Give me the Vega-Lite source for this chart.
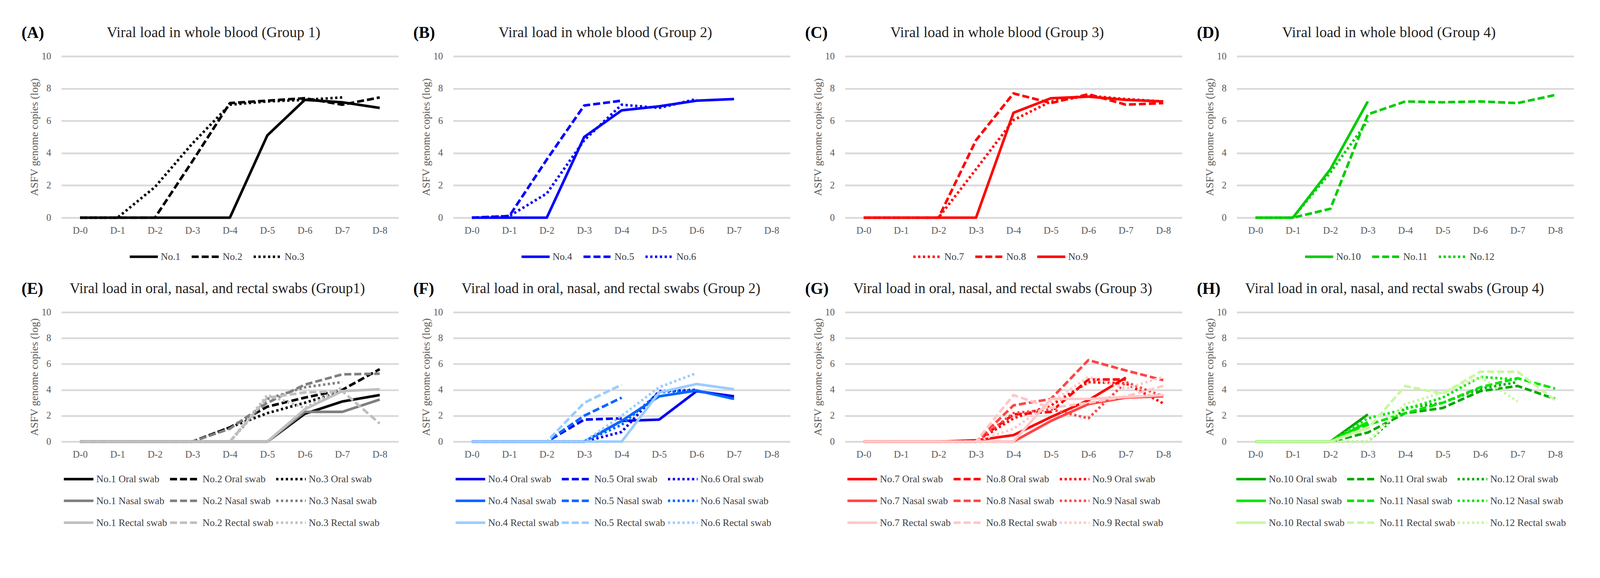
{
"$schema": "https://vega.github.io/schema/vega-lite/v6.json",
"background": "white",
"padding": {"left": 55, "top": 64, "right": 0, "bottom": 0},
"config": {
  "font": "Liberation Serif",
  "view": {"stroke": null},
  "axis": {"labelFont": "Liberation Serif", "labelFontSize": 24.6, "labelColor": "#595959", "titleFont": "Liberation Serif", "titleColor": "#595959", "titleFontWeight": "normal", "domain": false, "ticks": false, "tickSize": 0},
  "axisX": {"grid": false, "labelAngle": 0, "labelPadding": 21},
  "axisY": {"grid": true, "gridColor": "#d9d9d9", "gridWidth": 4.3, "labelPadding": 26.5, "titleFontSize": 27.5, "titlePadding": 3.8, "tickCount": 5},
  "legend": {"orient": "none", "symbolType": "stroke", "symbolSize": 5184, "symbolStrokeWidth": 6.6, "labelFont": "Liberation Serif", "labelFontSize": 25.6, "labelColor": "#404040", "labelOffset": 3.8, "labelLimit": 500, "columnPadding": 24.6, "rowPadding": -29.4, "padding": 0},
  "title": {"anchor": "start", "frame": "bounds", "font": "Liberation Serif", "fontSize": 41.7, "fontWeight": "bold", "color": "#000000", "offset": -41.7, "dx": -19},
  "line": {"strokeWidth": 6.6, "strokeJoin": "round"}
},
"datasets": {
"blood": [
{"panel":"A","series":"No.1","day":"D-0","value":0},{"panel":"A","series":"No.1","day":"D-1","value":0},{"panel":"A","series":"No.1","day":"D-2","value":0},{"panel":"A","series":"No.1","day":"D-3","value":0},{"panel":"A","series":"No.1","day":"D-4","value":0},{"panel":"A","series":"No.1","day":"D-5","value":5.1},{"panel":"A","series":"No.1","day":"D-6","value":7.3},{"panel":"A","series":"No.1","day":"D-7","value":7.15},{"panel":"A","series":"No.1","day":"D-8","value":6.8},
{"panel":"A","series":"No.2","day":"D-0","value":0},{"panel":"A","series":"No.2","day":"D-1","value":0},{"panel":"A","series":"No.2","day":"D-2","value":0},{"panel":"A","series":"No.2","day":"D-3","value":3.5},{"panel":"A","series":"No.2","day":"D-4","value":7.1},{"panel":"A","series":"No.2","day":"D-5","value":7.25},{"panel":"A","series":"No.2","day":"D-6","value":7.4},{"panel":"A","series":"No.2","day":"D-7","value":7.0},{"panel":"A","series":"No.2","day":"D-8","value":7.45},
{"panel":"A","series":"No.3","day":"D-0","value":0},{"panel":"A","series":"No.3","day":"D-1","value":0},{"panel":"A","series":"No.3","day":"D-2","value":1.9},{"panel":"A","series":"No.3","day":"D-3","value":4.6},{"panel":"A","series":"No.3","day":"D-4","value":7.0},{"panel":"A","series":"No.3","day":"D-5","value":7.2},{"panel":"A","series":"No.3","day":"D-6","value":7.3},{"panel":"A","series":"No.3","day":"D-7","value":7.45},
{"panel":"B","series":"No.4","day":"D-0","value":0},{"panel":"B","series":"No.4","day":"D-1","value":0},{"panel":"B","series":"No.4","day":"D-2","value":0},{"panel":"B","series":"No.4","day":"D-3","value":5.0},{"panel":"B","series":"No.4","day":"D-4","value":6.65},{"panel":"B","series":"No.4","day":"D-5","value":6.9},{"panel":"B","series":"No.4","day":"D-6","value":7.25},{"panel":"B","series":"No.4","day":"D-7","value":7.35},
{"panel":"B","series":"No.5","day":"D-0","value":0},{"panel":"B","series":"No.5","day":"D-1","value":0.1},{"panel":"B","series":"No.5","day":"D-2","value":3.6},{"panel":"B","series":"No.5","day":"D-3","value":6.95},{"panel":"B","series":"No.5","day":"D-4","value":7.25},
{"panel":"B","series":"No.6","day":"D-0","value":0},{"panel":"B","series":"No.6","day":"D-1","value":0.1},{"panel":"B","series":"No.6","day":"D-2","value":1.5},{"panel":"B","series":"No.6","day":"D-3","value":4.8},{"panel":"B","series":"No.6","day":"D-4","value":7.0},{"panel":"B","series":"No.6","day":"D-5","value":6.8},{"panel":"B","series":"No.6","day":"D-6","value":7.35},
{"panel":"C","series":"No.7","day":"D-0","value":0},{"panel":"C","series":"No.7","day":"D-1","value":0},{"panel":"C","series":"No.7","day":"D-2","value":0},{"panel":"C","series":"No.7","day":"D-3","value":3.0},{"panel":"C","series":"No.7","day":"D-4","value":6.05},{"panel":"C","series":"No.7","day":"D-5","value":7.2},{"panel":"C","series":"No.7","day":"D-6","value":7.55},{"panel":"C","series":"No.7","day":"D-7","value":7.35},{"panel":"C","series":"No.7","day":"D-8","value":7.2},
{"panel":"C","series":"No.8","day":"D-0","value":0},{"panel":"C","series":"No.8","day":"D-1","value":0},{"panel":"C","series":"No.8","day":"D-2","value":0},{"panel":"C","series":"No.8","day":"D-3","value":4.8},{"panel":"C","series":"No.8","day":"D-4","value":7.7},{"panel":"C","series":"No.8","day":"D-5","value":7.1},{"panel":"C","series":"No.8","day":"D-6","value":7.65},{"panel":"C","series":"No.8","day":"D-7","value":7.0},{"panel":"C","series":"No.8","day":"D-8","value":7.1},
{"panel":"C","series":"No.9","day":"D-0","value":0},{"panel":"C","series":"No.9","day":"D-1","value":0},{"panel":"C","series":"No.9","day":"D-2","value":0},{"panel":"C","series":"No.9","day":"D-3","value":0},{"panel":"C","series":"No.9","day":"D-4","value":6.5},{"panel":"C","series":"No.9","day":"D-5","value":7.4},{"panel":"C","series":"No.9","day":"D-6","value":7.5},{"panel":"C","series":"No.9","day":"D-7","value":7.3},{"panel":"C","series":"No.9","day":"D-8","value":7.2},
{"panel":"D","series":"No.10","day":"D-0","value":0},{"panel":"D","series":"No.10","day":"D-1","value":0},{"panel":"D","series":"No.10","day":"D-2","value":3.0},{"panel":"D","series":"No.10","day":"D-3","value":7.2},
{"panel":"D","series":"No.11","day":"D-0","value":0},{"panel":"D","series":"No.11","day":"D-1","value":0},{"panel":"D","series":"No.11","day":"D-2","value":0.55},{"panel":"D","series":"No.11","day":"D-3","value":6.4},{"panel":"D","series":"No.11","day":"D-4","value":7.2},{"panel":"D","series":"No.11","day":"D-5","value":7.15},{"panel":"D","series":"No.11","day":"D-6","value":7.2},{"panel":"D","series":"No.11","day":"D-7","value":7.1},{"panel":"D","series":"No.11","day":"D-8","value":7.6},
{"panel":"D","series":"No.12","day":"D-0","value":0},{"panel":"D","series":"No.12","day":"D-1","value":0},{"panel":"D","series":"No.12","day":"D-2","value":2.8},{"panel":"D","series":"No.12","day":"D-3","value":6.0}
],
"swab": [
{"panel":"E","series":"No.1 Oral swab","day":"D-0","value":0},{"panel":"E","series":"No.1 Oral swab","day":"D-1","value":0},{"panel":"E","series":"No.1 Oral swab","day":"D-2","value":0},{"panel":"E","series":"No.1 Oral swab","day":"D-3","value":0},{"panel":"E","series":"No.1 Oral swab","day":"D-4","value":0},{"panel":"E","series":"No.1 Oral swab","day":"D-5","value":0},{"panel":"E","series":"No.1 Oral swab","day":"D-6","value":2.15},{"panel":"E","series":"No.1 Oral swab","day":"D-7","value":3.1},{"panel":"E","series":"No.1 Oral swab","day":"D-8","value":3.6},
{"panel":"E","series":"No.2 Oral swab","day":"D-0","value":0},{"panel":"E","series":"No.2 Oral swab","day":"D-1","value":0},{"panel":"E","series":"No.2 Oral swab","day":"D-2","value":0},{"panel":"E","series":"No.2 Oral swab","day":"D-3","value":0},{"panel":"E","series":"No.2 Oral swab","day":"D-4","value":1.1},{"panel":"E","series":"No.2 Oral swab","day":"D-5","value":2.7},{"panel":"E","series":"No.2 Oral swab","day":"D-6","value":3.4},{"panel":"E","series":"No.2 Oral swab","day":"D-7","value":4.0},{"panel":"E","series":"No.2 Oral swab","day":"D-8","value":5.6},
{"panel":"E","series":"No.3 Oral swab","day":"D-0","value":0},{"panel":"E","series":"No.3 Oral swab","day":"D-1","value":0},{"panel":"E","series":"No.3 Oral swab","day":"D-2","value":0},{"panel":"E","series":"No.3 Oral swab","day":"D-3","value":0},{"panel":"E","series":"No.3 Oral swab","day":"D-4","value":1.1},{"panel":"E","series":"No.3 Oral swab","day":"D-5","value":2.2},{"panel":"E","series":"No.3 Oral swab","day":"D-6","value":3.0},{"panel":"E","series":"No.3 Oral swab","day":"D-7","value":3.9},
{"panel":"E","series":"No.1 Nasal swab","day":"D-0","value":0},{"panel":"E","series":"No.1 Nasal swab","day":"D-1","value":0},{"panel":"E","series":"No.1 Nasal swab","day":"D-2","value":0},{"panel":"E","series":"No.1 Nasal swab","day":"D-3","value":0},{"panel":"E","series":"No.1 Nasal swab","day":"D-4","value":0},{"panel":"E","series":"No.1 Nasal swab","day":"D-5","value":0},{"panel":"E","series":"No.1 Nasal swab","day":"D-6","value":2.3},{"panel":"E","series":"No.1 Nasal swab","day":"D-7","value":2.3},{"panel":"E","series":"No.1 Nasal swab","day":"D-8","value":3.25},
{"panel":"E","series":"No.2 Nasal swab","day":"D-0","value":0},{"panel":"E","series":"No.2 Nasal swab","day":"D-1","value":0},{"panel":"E","series":"No.2 Nasal swab","day":"D-2","value":0},{"panel":"E","series":"No.2 Nasal swab","day":"D-3","value":0},{"panel":"E","series":"No.2 Nasal swab","day":"D-4","value":1.0},{"panel":"E","series":"No.2 Nasal swab","day":"D-5","value":3.0},{"panel":"E","series":"No.2 Nasal swab","day":"D-6","value":4.4},{"panel":"E","series":"No.2 Nasal swab","day":"D-7","value":5.2},{"panel":"E","series":"No.2 Nasal swab","day":"D-8","value":5.25},
{"panel":"E","series":"No.3 Nasal swab","day":"D-0","value":0},{"panel":"E","series":"No.3 Nasal swab","day":"D-1","value":0},{"panel":"E","series":"No.3 Nasal swab","day":"D-2","value":0},{"panel":"E","series":"No.3 Nasal swab","day":"D-3","value":0},{"panel":"E","series":"No.3 Nasal swab","day":"D-4","value":0},{"panel":"E","series":"No.3 Nasal swab","day":"D-5","value":3.3},{"panel":"E","series":"No.3 Nasal swab","day":"D-6","value":4.2},{"panel":"E","series":"No.3 Nasal swab","day":"D-7","value":4.6},
{"panel":"E","series":"No.1 Rectal swab","day":"D-0","value":0},{"panel":"E","series":"No.1 Rectal swab","day":"D-1","value":0},{"panel":"E","series":"No.1 Rectal swab","day":"D-2","value":0},{"panel":"E","series":"No.1 Rectal swab","day":"D-3","value":0},{"panel":"E","series":"No.1 Rectal swab","day":"D-4","value":0},{"panel":"E","series":"No.1 Rectal swab","day":"D-5","value":0},{"panel":"E","series":"No.1 Rectal swab","day":"D-6","value":2.5},{"panel":"E","series":"No.1 Rectal swab","day":"D-7","value":3.9},{"panel":"E","series":"No.1 Rectal swab","day":"D-8","value":4.05},
{"panel":"E","series":"No.2 Rectal swab","day":"D-0","value":0},{"panel":"E","series":"No.2 Rectal swab","day":"D-1","value":0},{"panel":"E","series":"No.2 Rectal swab","day":"D-2","value":0},{"panel":"E","series":"No.2 Rectal swab","day":"D-3","value":0},{"panel":"E","series":"No.2 Rectal swab","day":"D-4","value":0},{"panel":"E","series":"No.2 Rectal swab","day":"D-5","value":3.4},{"panel":"E","series":"No.2 Rectal swab","day":"D-6","value":3.8},{"panel":"E","series":"No.2 Rectal swab","day":"D-7","value":3.9},{"panel":"E","series":"No.2 Rectal swab","day":"D-8","value":1.4},
{"panel":"E","series":"No.3 Rectal swab","day":"D-0","value":0},{"panel":"E","series":"No.3 Rectal swab","day":"D-1","value":0},{"panel":"E","series":"No.3 Rectal swab","day":"D-2","value":0},{"panel":"E","series":"No.3 Rectal swab","day":"D-3","value":0},{"panel":"E","series":"No.3 Rectal swab","day":"D-4","value":0},{"panel":"E","series":"No.3 Rectal swab","day":"D-5","value":3.6},{"panel":"E","series":"No.3 Rectal swab","day":"D-6","value":2.6},{"panel":"E","series":"No.3 Rectal swab","day":"D-7","value":4.2},
{"panel":"F","series":"No.4 Oral swab","day":"D-0","value":0},{"panel":"F","series":"No.4 Oral swab","day":"D-1","value":0},{"panel":"F","series":"No.4 Oral swab","day":"D-2","value":0},{"panel":"F","series":"No.4 Oral swab","day":"D-3","value":0},{"panel":"F","series":"No.4 Oral swab","day":"D-4","value":1.6},{"panel":"F","series":"No.4 Oral swab","day":"D-5","value":1.7},{"panel":"F","series":"No.4 Oral swab","day":"D-6","value":3.9},{"panel":"F","series":"No.4 Oral swab","day":"D-7","value":3.5},
{"panel":"F","series":"No.5 Oral swab","day":"D-0","value":0},{"panel":"F","series":"No.5 Oral swab","day":"D-1","value":0},{"panel":"F","series":"No.5 Oral swab","day":"D-2","value":0},{"panel":"F","series":"No.5 Oral swab","day":"D-3","value":1.7},{"panel":"F","series":"No.5 Oral swab","day":"D-4","value":1.8},
{"panel":"F","series":"No.6 Oral swab","day":"D-0","value":0},{"panel":"F","series":"No.6 Oral swab","day":"D-1","value":0},{"panel":"F","series":"No.6 Oral swab","day":"D-2","value":0},{"panel":"F","series":"No.6 Oral swab","day":"D-3","value":0},{"panel":"F","series":"No.6 Oral swab","day":"D-4","value":0.75},{"panel":"F","series":"No.6 Oral swab","day":"D-5","value":3.9},{"panel":"F","series":"No.6 Oral swab","day":"D-6","value":4.0},
{"panel":"F","series":"No.4 Nasal swab","day":"D-0","value":0},{"panel":"F","series":"No.4 Nasal swab","day":"D-1","value":0},{"panel":"F","series":"No.4 Nasal swab","day":"D-2","value":0},{"panel":"F","series":"No.4 Nasal swab","day":"D-3","value":0},{"panel":"F","series":"No.4 Nasal swab","day":"D-4","value":1.6},{"panel":"F","series":"No.4 Nasal swab","day":"D-5","value":3.5},{"panel":"F","series":"No.4 Nasal swab","day":"D-6","value":3.95},{"panel":"F","series":"No.4 Nasal swab","day":"D-7","value":3.3},
{"panel":"F","series":"No.5 Nasal swab","day":"D-0","value":0},{"panel":"F","series":"No.5 Nasal swab","day":"D-1","value":0},{"panel":"F","series":"No.5 Nasal swab","day":"D-2","value":0},{"panel":"F","series":"No.5 Nasal swab","day":"D-3","value":2.0},{"panel":"F","series":"No.5 Nasal swab","day":"D-4","value":3.4},
{"panel":"F","series":"No.6 Nasal swab","day":"D-0","value":0},{"panel":"F","series":"No.6 Nasal swab","day":"D-1","value":0},{"panel":"F","series":"No.6 Nasal swab","day":"D-2","value":0},{"panel":"F","series":"No.6 Nasal swab","day":"D-3","value":0},{"panel":"F","series":"No.6 Nasal swab","day":"D-4","value":1.3},{"panel":"F","series":"No.6 Nasal swab","day":"D-5","value":3.8},{"panel":"F","series":"No.6 Nasal swab","day":"D-6","value":4.0},
{"panel":"F","series":"No.4 Rectal swab","day":"D-0","value":0},{"panel":"F","series":"No.4 Rectal swab","day":"D-1","value":0},{"panel":"F","series":"No.4 Rectal swab","day":"D-2","value":0},{"panel":"F","series":"No.4 Rectal swab","day":"D-3","value":0},{"panel":"F","series":"No.4 Rectal swab","day":"D-4","value":0},{"panel":"F","series":"No.4 Rectal swab","day":"D-5","value":3.8},{"panel":"F","series":"No.4 Rectal swab","day":"D-6","value":4.45},{"panel":"F","series":"No.4 Rectal swab","day":"D-7","value":4.05},
{"panel":"F","series":"No.5 Rectal swab","day":"D-0","value":0},{"panel":"F","series":"No.5 Rectal swab","day":"D-1","value":0},{"panel":"F","series":"No.5 Rectal swab","day":"D-2","value":0},{"panel":"F","series":"No.5 Rectal swab","day":"D-3","value":3.0},{"panel":"F","series":"No.5 Rectal swab","day":"D-4","value":4.4},
{"panel":"F","series":"No.6 Rectal swab","day":"D-0","value":0},{"panel":"F","series":"No.6 Rectal swab","day":"D-1","value":0},{"panel":"F","series":"No.6 Rectal swab","day":"D-2","value":0},{"panel":"F","series":"No.6 Rectal swab","day":"D-3","value":0},{"panel":"F","series":"No.6 Rectal swab","day":"D-4","value":2.0},{"panel":"F","series":"No.6 Rectal swab","day":"D-5","value":4.2},{"panel":"F","series":"No.6 Rectal swab","day":"D-6","value":5.3},
{"panel":"G","series":"No.7 Oral swab","day":"D-0","value":0},{"panel":"G","series":"No.7 Oral swab","day":"D-1","value":0},{"panel":"G","series":"No.7 Oral swab","day":"D-2","value":0},{"panel":"G","series":"No.7 Oral swab","day":"D-3","value":0.1},{"panel":"G","series":"No.7 Oral swab","day":"D-4","value":0.5},{"panel":"G","series":"No.7 Oral swab","day":"D-5","value":1.9},{"panel":"G","series":"No.7 Oral swab","day":"D-6","value":3.2},{"panel":"G","series":"No.7 Oral swab","day":"D-7","value":4.95},
{"panel":"G","series":"No.8 Oral swab","day":"D-0","value":0},{"panel":"G","series":"No.8 Oral swab","day":"D-1","value":0},{"panel":"G","series":"No.8 Oral swab","day":"D-2","value":0},{"panel":"G","series":"No.8 Oral swab","day":"D-3","value":0},{"panel":"G","series":"No.8 Oral swab","day":"D-4","value":2.1},{"panel":"G","series":"No.8 Oral swab","day":"D-5","value":2.3},{"panel":"G","series":"No.8 Oral swab","day":"D-6","value":4.8},{"panel":"G","series":"No.8 Oral swab","day":"D-7","value":4.8},
{"panel":"G","series":"No.9 Oral swab","day":"D-0","value":0},{"panel":"G","series":"No.9 Oral swab","day":"D-1","value":0},{"panel":"G","series":"No.9 Oral swab","day":"D-2","value":0},{"panel":"G","series":"No.9 Oral swab","day":"D-3","value":0},{"panel":"G","series":"No.9 Oral swab","day":"D-4","value":1.8},{"panel":"G","series":"No.9 Oral swab","day":"D-5","value":2.8},{"panel":"G","series":"No.9 Oral swab","day":"D-6","value":4.6},{"panel":"G","series":"No.9 Oral swab","day":"D-7","value":4.5},{"panel":"G","series":"No.9 Oral swab","day":"D-8","value":2.95},
{"panel":"G","series":"No.7 Nasal swab","day":"D-0","value":0},{"panel":"G","series":"No.7 Nasal swab","day":"D-1","value":0},{"panel":"G","series":"No.7 Nasal swab","day":"D-2","value":0},{"panel":"G","series":"No.7 Nasal swab","day":"D-3","value":0},{"panel":"G","series":"No.7 Nasal swab","day":"D-4","value":0},{"panel":"G","series":"No.7 Nasal swab","day":"D-5","value":1.6},{"panel":"G","series":"No.7 Nasal swab","day":"D-6","value":2.9},{"panel":"G","series":"No.7 Nasal swab","day":"D-7","value":3.4},{"panel":"G","series":"No.7 Nasal swab","day":"D-8","value":3.5},
{"panel":"G","series":"No.8 Nasal swab","day":"D-0","value":0},{"panel":"G","series":"No.8 Nasal swab","day":"D-1","value":0},{"panel":"G","series":"No.8 Nasal swab","day":"D-2","value":0},{"panel":"G","series":"No.8 Nasal swab","day":"D-3","value":0},{"panel":"G","series":"No.8 Nasal swab","day":"D-4","value":2.8},{"panel":"G","series":"No.8 Nasal swab","day":"D-5","value":3.3},{"panel":"G","series":"No.8 Nasal swab","day":"D-6","value":6.3},{"panel":"G","series":"No.8 Nasal swab","day":"D-7","value":5.5},{"panel":"G","series":"No.8 Nasal swab","day":"D-8","value":4.75},
{"panel":"G","series":"No.9 Nasal swab","day":"D-0","value":0},{"panel":"G","series":"No.9 Nasal swab","day":"D-1","value":0},{"panel":"G","series":"No.9 Nasal swab","day":"D-2","value":0},{"panel":"G","series":"No.9 Nasal swab","day":"D-3","value":0},{"panel":"G","series":"No.9 Nasal swab","day":"D-4","value":2.2},{"panel":"G","series":"No.9 Nasal swab","day":"D-5","value":2.5},{"panel":"G","series":"No.9 Nasal swab","day":"D-6","value":1.8},{"panel":"G","series":"No.9 Nasal swab","day":"D-7","value":4.6},{"panel":"G","series":"No.9 Nasal swab","day":"D-8","value":3.5},
{"panel":"G","series":"No.7 Rectal swab","day":"D-0","value":0},{"panel":"G","series":"No.7 Rectal swab","day":"D-1","value":0},{"panel":"G","series":"No.7 Rectal swab","day":"D-2","value":0},{"panel":"G","series":"No.7 Rectal swab","day":"D-3","value":0},{"panel":"G","series":"No.7 Rectal swab","day":"D-4","value":0},{"panel":"G","series":"No.7 Rectal swab","day":"D-5","value":3.3},{"panel":"G","series":"No.7 Rectal swab","day":"D-6","value":3.3},{"panel":"G","series":"No.7 Rectal swab","day":"D-7","value":3.45},{"panel":"G","series":"No.7 Rectal swab","day":"D-8","value":3.6},
{"panel":"G","series":"No.8 Rectal swab","day":"D-0","value":0},{"panel":"G","series":"No.8 Rectal swab","day":"D-1","value":0},{"panel":"G","series":"No.8 Rectal swab","day":"D-2","value":0},{"panel":"G","series":"No.8 Rectal swab","day":"D-3","value":0},{"panel":"G","series":"No.8 Rectal swab","day":"D-4","value":3.6},{"panel":"G","series":"No.8 Rectal swab","day":"D-5","value":2.6},{"panel":"G","series":"No.8 Rectal swab","day":"D-6","value":3.0},{"panel":"G","series":"No.8 Rectal swab","day":"D-7","value":3.5},{"panel":"G","series":"No.8 Rectal swab","day":"D-8","value":4.3},
{"panel":"G","series":"No.9 Rectal swab","day":"D-0","value":0},{"panel":"G","series":"No.9 Rectal swab","day":"D-1","value":0},{"panel":"G","series":"No.9 Rectal swab","day":"D-2","value":0},{"panel":"G","series":"No.9 Rectal swab","day":"D-3","value":0},{"panel":"G","series":"No.9 Rectal swab","day":"D-4","value":1.0},{"panel":"G","series":"No.9 Rectal swab","day":"D-5","value":3.0},{"panel":"G","series":"No.9 Rectal swab","day":"D-6","value":5.0},{"panel":"G","series":"No.9 Rectal swab","day":"D-7","value":4.1},{"panel":"G","series":"No.9 Rectal swab","day":"D-8","value":5.0},
{"panel":"H","series":"No.10 Oral swab","day":"D-0","value":0},{"panel":"H","series":"No.10 Oral swab","day":"D-1","value":0},{"panel":"H","series":"No.10 Oral swab","day":"D-2","value":0},{"panel":"H","series":"No.10 Oral swab","day":"D-3","value":2.1},
{"panel":"H","series":"No.11 Oral swab","day":"D-0","value":0},{"panel":"H","series":"No.11 Oral swab","day":"D-1","value":0},{"panel":"H","series":"No.11 Oral swab","day":"D-2","value":0},{"panel":"H","series":"No.11 Oral swab","day":"D-3","value":0.7},{"panel":"H","series":"No.11 Oral swab","day":"D-4","value":2.2},{"panel":"H","series":"No.11 Oral swab","day":"D-5","value":2.6},{"panel":"H","series":"No.11 Oral swab","day":"D-6","value":3.9},{"panel":"H","series":"No.11 Oral swab","day":"D-7","value":4.3},{"panel":"H","series":"No.11 Oral swab","day":"D-8","value":3.3},
{"panel":"H","series":"No.12 Oral swab","day":"D-0","value":0},{"panel":"H","series":"No.12 Oral swab","day":"D-1","value":0},{"panel":"H","series":"No.12 Oral swab","day":"D-2","value":0},{"panel":"H","series":"No.12 Oral swab","day":"D-3","value":0},{"panel":"H","series":"No.12 Oral swab","day":"D-4","value":2.6},{"panel":"H","series":"No.12 Oral swab","day":"D-5","value":3.0},{"panel":"H","series":"No.12 Oral swab","day":"D-6","value":4.1},{"panel":"H","series":"No.12 Oral swab","day":"D-7","value":4.6},
{"panel":"H","series":"No.10 Nasal swab","day":"D-0","value":0},{"panel":"H","series":"No.10 Nasal swab","day":"D-1","value":0},{"panel":"H","series":"No.10 Nasal swab","day":"D-2","value":0},{"panel":"H","series":"No.10 Nasal swab","day":"D-3","value":1.5},
{"panel":"H","series":"No.11 Nasal swab","day":"D-0","value":0},{"panel":"H","series":"No.11 Nasal swab","day":"D-1","value":0},{"panel":"H","series":"No.11 Nasal swab","day":"D-2","value":0},{"panel":"H","series":"No.11 Nasal swab","day":"D-3","value":1.3},{"panel":"H","series":"No.11 Nasal swab","day":"D-4","value":2.2},{"panel":"H","series":"No.11 Nasal swab","day":"D-5","value":3.0},{"panel":"H","series":"No.11 Nasal swab","day":"D-6","value":4.2},{"panel":"H","series":"No.11 Nasal swab","day":"D-7","value":4.9},{"panel":"H","series":"No.11 Nasal swab","day":"D-8","value":4.1},
{"panel":"H","series":"No.12 Nasal swab","day":"D-0","value":0},{"panel":"H","series":"No.12 Nasal swab","day":"D-1","value":0},{"panel":"H","series":"No.12 Nasal swab","day":"D-2","value":0},{"panel":"H","series":"No.12 Nasal swab","day":"D-3","value":1.8},{"panel":"H","series":"No.12 Nasal swab","day":"D-4","value":2.5},{"panel":"H","series":"No.12 Nasal swab","day":"D-5","value":3.4},{"panel":"H","series":"No.12 Nasal swab","day":"D-6","value":5.0},{"panel":"H","series":"No.12 Nasal swab","day":"D-7","value":4.8},
{"panel":"H","series":"No.10 Rectal swab","day":"D-0","value":0},{"panel":"H","series":"No.10 Rectal swab","day":"D-1","value":0},{"panel":"H","series":"No.10 Rectal swab","day":"D-2","value":0},{"panel":"H","series":"No.10 Rectal swab","day":"D-3","value":1.1},
{"panel":"H","series":"No.11 Rectal swab","day":"D-0","value":0},{"panel":"H","series":"No.11 Rectal swab","day":"D-1","value":0},{"panel":"H","series":"No.11 Rectal swab","day":"D-2","value":0},{"panel":"H","series":"No.11 Rectal swab","day":"D-3","value":1.0},{"panel":"H","series":"No.11 Rectal swab","day":"D-4","value":4.3},{"panel":"H","series":"No.11 Rectal swab","day":"D-5","value":3.7},{"panel":"H","series":"No.11 Rectal swab","day":"D-6","value":5.4},{"panel":"H","series":"No.11 Rectal swab","day":"D-7","value":5.4},{"panel":"H","series":"No.11 Rectal swab","day":"D-8","value":3.2},
{"panel":"H","series":"No.12 Rectal swab","day":"D-0","value":0},{"panel":"H","series":"No.12 Rectal swab","day":"D-1","value":0},{"panel":"H","series":"No.12 Rectal swab","day":"D-2","value":0},{"panel":"H","series":"No.12 Rectal swab","day":"D-3","value":0},{"panel":"H","series":"No.12 Rectal swab","day":"D-4","value":2.9},{"panel":"H","series":"No.12 Rectal swab","day":"D-5","value":3.8},{"panel":"H","series":"No.12 Rectal swab","day":"D-6","value":5.0},{"panel":"H","series":"No.12 Rectal swab","day":"D-7","value":3.1}
]
},
"spacing": 48,
"resolve": {"scale": {"color": "independent", "strokeDash": "independent", "x": "independent", "y": "independent"}, "legend": {"color": "independent", "strokeDash": "independent"}},
"vconcat": [
{
"spacing": 38,
"resolve": {"scale": {"color": "independent", "strokeDash": "independent", "x": "independent", "y": "independent"}, "legend": {"color": "independent", "strokeDash": "independent"}},
"hconcat": [
{"data": {"name": "blood"}, "transform": [{"filter": "datum.panel === 'A'"}], "width": 863, "height": 413,
 "title": {"text": "(A)"},
 "encoding": {"y": {"field": "value", "type": "quantitative", "title": "ASFV genome copies (log)", "scale": {"domain": [0, 10]}}},
 "layer": [
  {"mark": {"type": "line"},
   "encoding": {
    "x": {"field": "day", "type": "ordinal", "title": null, "scale": {"domain": ["D-0","D-1","D-2","D-3","D-4","D-5","D-6","D-7","D-8"]}},
    "color": {"field": "series", "type": "nominal", "scale": {"domain": ["No.1","No.2","No.3"], "range": ["#000000","#000000","#000000"]}, "legend": {"title": null, "direction": "horizontal", "legendX": 171.6, "legendY": 473}},
    "strokeDash": {"field": "series", "type": "nominal", "scale": {"domain": ["No.1","No.2","No.3"], "range": [[1,0],[18,7.6],[5.7,6.6]]}, "legend": {"title": null, "direction": "horizontal", "legendX": 171.6, "legendY": 473}}
   }},
  {"mark": {"type": "line", "opacity": 0},
   "encoding": {
    "x": {"field": "day", "type": "ordinal", "scale": {"domain": ["D-0","D-1","D-2","D-3","D-4","D-5","D-6","D-7","D-8"]}, "axis": {"orient": "top", "labels": false, "grid": false, "title": "Viral load in whole blood (Group 1)", "titleX": 115.7, "titleY": -60.7, "titleAlign": "left", "titleBaseline": "middle", "titleFontSize": 37.9, "titleColor": "#1f1f1f"}},
    "detail": {"field": "series"}
   }}
 ],
 "resolve": {"axis": {"x": "independent"}}},
{"data": {"name": "blood"}, "transform": [{"filter": "datum.panel === 'B'"}], "width": 863, "height": 413,
 "title": {"text": "(B)"},
 "encoding": {"y": {"field": "value", "type": "quantitative", "title": "ASFV genome copies (log)", "scale": {"domain": [0, 10]}}},
 "layer": [
  {"mark": {"type": "line"},
   "encoding": {
    "x": {"field": "day", "type": "ordinal", "title": null, "scale": {"domain": ["D-0","D-1","D-2","D-3","D-4","D-5","D-6","D-7","D-8"]}},
    "color": {"field": "series", "type": "nominal", "scale": {"domain": ["No.4","No.5","No.6"], "range": ["#0000ff","#0000ff","#0000ff"]}, "legend": {"title": null, "direction": "horizontal", "legendX": 171.6, "legendY": 473}},
    "strokeDash": {"field": "series", "type": "nominal", "scale": {"domain": ["No.4","No.5","No.6"], "range": [[1,0],[18,7.6],[5.7,6.6]]}, "legend": {"title": null, "direction": "horizontal", "legendX": 171.6, "legendY": 473}}
   }},
  {"mark": {"type": "line", "opacity": 0},
   "encoding": {
    "x": {"field": "day", "type": "ordinal", "scale": {"domain": ["D-0","D-1","D-2","D-3","D-4","D-5","D-6","D-7","D-8"]}, "axis": {"orient": "top", "labels": false, "grid": false, "title": "Viral load in whole blood (Group 2)", "titleX": 115.7, "titleY": -60.7, "titleAlign": "left", "titleBaseline": "middle", "titleFontSize": 37.9, "titleColor": "#1f1f1f"}},
    "detail": {"field": "series"}
   }}
 ],
 "resolve": {"axis": {"x": "independent"}}},
{"data": {"name": "blood"}, "transform": [{"filter": "datum.panel === 'C'"}], "width": 863, "height": 413,
 "title": {"text": "(C)"},
 "encoding": {"y": {"field": "value", "type": "quantitative", "title": "ASFV genome copies (log)", "scale": {"domain": [0, 10]}}},
 "layer": [
  {"mark": {"type": "line"},
   "encoding": {
    "x": {"field": "day", "type": "ordinal", "title": null, "scale": {"domain": ["D-0","D-1","D-2","D-3","D-4","D-5","D-6","D-7","D-8"]}},
    "color": {"field": "series", "type": "nominal", "scale": {"domain": ["No.7","No.8","No.9"], "range": ["#ff0000","#ff0000","#ff0000"]}, "legend": {"title": null, "direction": "horizontal", "legendX": 171.6, "legendY": 473}},
    "strokeDash": {"field": "series", "type": "nominal", "scale": {"domain": ["No.7","No.8","No.9"], "range": [[5.7,6.6],[18,7.6],[1,0]]}, "legend": {"title": null, "direction": "horizontal", "legendX": 171.6, "legendY": 473}}
   }},
  {"mark": {"type": "line", "opacity": 0},
   "encoding": {
    "x": {"field": "day", "type": "ordinal", "scale": {"domain": ["D-0","D-1","D-2","D-3","D-4","D-5","D-6","D-7","D-8"]}, "axis": {"orient": "top", "labels": false, "grid": false, "title": "Viral load in whole blood (Group 3)", "titleX": 115.7, "titleY": -60.7, "titleAlign": "left", "titleBaseline": "middle", "titleFontSize": 37.9, "titleColor": "#1f1f1f"}},
    "detail": {"field": "series"}
   }}
 ],
 "resolve": {"axis": {"x": "independent"}}},
{"data": {"name": "blood"}, "transform": [{"filter": "datum.panel === 'D'"}], "width": 863, "height": 413,
 "title": {"text": "(D)"},
 "encoding": {"y": {"field": "value", "type": "quantitative", "title": "ASFV genome copies (log)", "scale": {"domain": [0, 10]}}},
 "layer": [
  {"mark": {"type": "line"},
   "encoding": {
    "x": {"field": "day", "type": "ordinal", "title": null, "scale": {"domain": ["D-0","D-1","D-2","D-3","D-4","D-5","D-6","D-7","D-8"]}},
    "color": {"field": "series", "type": "nominal", "scale": {"domain": ["No.10","No.11","No.12"], "range": ["#00cc00","#00cc00","#00cc00"]}, "legend": {"title": null, "direction": "horizontal", "legendX": 171.6, "legendY": 473}},
    "strokeDash": {"field": "series", "type": "nominal", "scale": {"domain": ["No.10","No.11","No.12"], "range": [[1,0],[18,7.6],[5.7,6.6]]}, "legend": {"title": null, "direction": "horizontal", "legendX": 171.6, "legendY": 473}}
   }},
  {"mark": {"type": "line", "opacity": 0},
   "encoding": {
    "x": {"field": "day", "type": "ordinal", "scale": {"domain": ["D-0","D-1","D-2","D-3","D-4","D-5","D-6","D-7","D-8"]}, "axis": {"orient": "top", "labels": false, "grid": false, "title": "Viral load in whole blood (Group 4)", "titleX": 115.7, "titleY": -60.7, "titleAlign": "left", "titleBaseline": "middle", "titleFontSize": 37.9, "titleColor": "#1f1f1f"}},
    "detail": {"field": "series"}
   }}
 ],
 "resolve": {"axis": {"x": "independent"}}}
]
},
{
"spacing": 38,
"resolve": {"scale": {"color": "independent", "strokeDash": "independent", "x": "independent", "y": "independent"}, "legend": {"color": "independent", "strokeDash": "independent"}},
"hconcat": [
{"data": {"name": "swab"}, "transform": [{"filter": "datum.panel === 'E'"}], "width": 863, "height": 331,
 "title": {"text": "(E)"},
 "encoding": {"y": {"field": "value", "type": "quantitative", "title": "ASFV genome copies (log)", "scale": {"domain": [0, 10]}}},
 "layer": [
  {"mark": {"type": "line"},
   "encoding": {
    "x": {"field": "day", "type": "ordinal", "title": null, "scale": {"domain": ["D-0","D-1","D-2","D-3","D-4","D-5","D-6","D-7","D-8"]}},
    "color": {"field": "series", "type": "nominal", "scale": {"domain": ["No.1 Oral swab","No.2 Oral swab","No.3 Oral swab","No.1 Nasal swab","No.2 Nasal swab","No.3 Nasal swab","No.1 Rectal swab","No.2 Rectal swab","No.3 Rectal swab"], "range": ["#000000","#000000","#000000","#7f7f7f","#7f7f7f","#7f7f7f","#bfbfbf","#bfbfbf","#bfbfbf"]}, "legend": {"title": null, "direction": "horizontal", "columns": 3, "symbolSize": 5746, "columnPadding": 2.8, "legendX": 2.8, "legendY": 385}},
    "strokeDash": {"field": "series", "type": "nominal", "scale": {"domain": ["No.1 Oral swab","No.2 Oral swab","No.3 Oral swab","No.1 Nasal swab","No.2 Nasal swab","No.3 Nasal swab","No.1 Rectal swab","No.2 Rectal swab","No.3 Rectal swab"], "range": [[1,0],[18,7.6],[5.7,6.6],[1,0],[18,7.6],[5.7,6.6],[1,0],[18,7.6],[5.7,6.6]]}, "legend": {"title": null, "direction": "horizontal", "columns": 3, "symbolSize": 5746, "columnPadding": 2.8, "legendX": 2.8, "legendY": 385}}
   }},
  {"mark": {"type": "line", "opacity": 0},
   "encoding": {
    "x": {"field": "day", "type": "ordinal", "scale": {"domain": ["D-0","D-1","D-2","D-3","D-4","D-5","D-6","D-7","D-8"]}, "axis": {"orient": "top", "labels": false, "grid": false, "title": "Viral load in oral, nasal, and rectal swabs (Group1)", "titleX": 20.9, "titleY": -60.7, "titleAlign": "left", "titleBaseline": "middle", "titleFontSize": 37, "titleColor": "#1f1f1f"}},
    "detail": {"field": "series"}
   }}
 ],
 "resolve": {"axis": {"x": "independent"}}},
{"data": {"name": "swab"}, "transform": [{"filter": "datum.panel === 'F'"}], "width": 863, "height": 331,
 "title": {"text": "(F)"},
 "encoding": {"y": {"field": "value", "type": "quantitative", "title": "ASFV genome copies (log)", "scale": {"domain": [0, 10]}}},
 "layer": [
  {"mark": {"type": "line"},
   "encoding": {
    "x": {"field": "day", "type": "ordinal", "title": null, "scale": {"domain": ["D-0","D-1","D-2","D-3","D-4","D-5","D-6","D-7","D-8"]}},
    "color": {"field": "series", "type": "nominal", "scale": {"domain": ["No.4 Oral swab","No.5 Oral swab","No.6 Oral swab","No.4 Nasal swab","No.5 Nasal swab","No.6 Nasal swab","No.4 Rectal swab","No.5 Rectal swab","No.6 Rectal swab"], "range": ["#0000f0","#0000f0","#0000f0","#0066ff","#0066ff","#0066ff","#99ccff","#99ccff","#99ccff"]}, "legend": {"title": null, "direction": "horizontal", "columns": 3, "symbolSize": 5746, "columnPadding": 2.8, "legendX": 2.8, "legendY": 385}},
    "strokeDash": {"field": "series", "type": "nominal", "scale": {"domain": ["No.4 Oral swab","No.5 Oral swab","No.6 Oral swab","No.4 Nasal swab","No.5 Nasal swab","No.6 Nasal swab","No.4 Rectal swab","No.5 Rectal swab","No.6 Rectal swab"], "range": [[1,0],[18,7.6],[5.7,6.6],[1,0],[18,7.6],[5.7,6.6],[1,0],[18,7.6],[5.7,6.6]]}, "legend": {"title": null, "direction": "horizontal", "columns": 3, "symbolSize": 5746, "columnPadding": 2.8, "legendX": 2.8, "legendY": 385}}
   }},
  {"mark": {"type": "line", "opacity": 0},
   "encoding": {
    "x": {"field": "day", "type": "ordinal", "scale": {"domain": ["D-0","D-1","D-2","D-3","D-4","D-5","D-6","D-7","D-8"]}, "axis": {"orient": "top", "labels": false, "grid": false, "title": "Viral load in oral, nasal, and rectal swabs (Group 2)", "titleX": 20.9, "titleY": -60.7, "titleAlign": "left", "titleBaseline": "middle", "titleFontSize": 37, "titleColor": "#1f1f1f"}},
    "detail": {"field": "series"}
   }}
 ],
 "resolve": {"axis": {"x": "independent"}}},
{"data": {"name": "swab"}, "transform": [{"filter": "datum.panel === 'G'"}], "width": 863, "height": 331,
 "title": {"text": "(G)"},
 "encoding": {"y": {"field": "value", "type": "quantitative", "title": "ASFV genome copies (log)", "scale": {"domain": [0, 10]}}},
 "layer": [
  {"mark": {"type": "line"},
   "encoding": {
    "x": {"field": "day", "type": "ordinal", "title": null, "scale": {"domain": ["D-0","D-1","D-2","D-3","D-4","D-5","D-6","D-7","D-8"]}},
    "color": {"field": "series", "type": "nominal", "scale": {"domain": ["No.7 Oral swab","No.8 Oral swab","No.9 Oral swab","No.7 Nasal swab","No.8 Nasal swab","No.9 Nasal swab","No.7 Rectal swab","No.8 Rectal swab","No.9 Rectal swab"], "range": ["#ff0000","#ff0000","#ff0000","#ff4545","#ff4545","#ff4545","#ffc7c7","#ffc7c7","#ffc7c7"]}, "legend": {"title": null, "direction": "horizontal", "columns": 3, "symbolSize": 5746, "columnPadding": 2.8, "legendX": 2.8, "legendY": 385}},
    "strokeDash": {"field": "series", "type": "nominal", "scale": {"domain": ["No.7 Oral swab","No.8 Oral swab","No.9 Oral swab","No.7 Nasal swab","No.8 Nasal swab","No.9 Nasal swab","No.7 Rectal swab","No.8 Rectal swab","No.9 Rectal swab"], "range": [[1,0],[18,7.6],[5.7,6.6],[1,0],[18,7.6],[5.7,6.6],[1,0],[18,7.6],[5.7,6.6]]}, "legend": {"title": null, "direction": "horizontal", "columns": 3, "symbolSize": 5746, "columnPadding": 2.8, "legendX": 2.8, "legendY": 385}}
   }},
  {"mark": {"type": "line", "opacity": 0},
   "encoding": {
    "x": {"field": "day", "type": "ordinal", "scale": {"domain": ["D-0","D-1","D-2","D-3","D-4","D-5","D-6","D-7","D-8"]}, "axis": {"orient": "top", "labels": false, "grid": false, "title": "Viral load in oral, nasal, and rectal swabs (Group 3)", "titleX": 20.9, "titleY": -60.7, "titleAlign": "left", "titleBaseline": "middle", "titleFontSize": 37, "titleColor": "#1f1f1f"}},
    "detail": {"field": "series"}
   }}
 ],
 "resolve": {"axis": {"x": "independent"}}},
{"data": {"name": "swab"}, "transform": [{"filter": "datum.panel === 'H'"}], "width": 863, "height": 331,
 "title": {"text": "(H)"},
 "encoding": {"y": {"field": "value", "type": "quantitative", "title": "ASFV genome copies (log)", "scale": {"domain": [0, 10]}}},
 "layer": [
  {"mark": {"type": "line"},
   "encoding": {
    "x": {"field": "day", "type": "ordinal", "title": null, "scale": {"domain": ["D-0","D-1","D-2","D-3","D-4","D-5","D-6","D-7","D-8"]}},
    "color": {"field": "series", "type": "nominal", "scale": {"domain": ["No.10 Oral swab","No.11 Oral swab","No.12 Oral swab","No.10 Nasal swab","No.11 Nasal swab","No.12 Nasal swab","No.10 Rectal swab","No.11 Rectal swab","No.12 Rectal swab"], "range": ["#00a800","#00a800","#00a800","#00e600","#00e600","#00e600","#c8f7a0","#c8f7a0","#c8f7a0"]}, "legend": {"title": null, "direction": "horizontal", "columns": 3, "symbolSize": 5746, "columnPadding": 2.8, "legendX": -4.7, "legendY": 385}},
    "strokeDash": {"field": "series", "type": "nominal", "scale": {"domain": ["No.10 Oral swab","No.11 Oral swab","No.12 Oral swab","No.10 Nasal swab","No.11 Nasal swab","No.12 Nasal swab","No.10 Rectal swab","No.11 Rectal swab","No.12 Rectal swab"], "range": [[1,0],[18,7.6],[5.7,6.6],[1,0],[18,7.6],[5.7,6.6],[1,0],[18,7.6],[5.7,6.6]]}, "legend": {"title": null, "direction": "horizontal", "columns": 3, "symbolSize": 5746, "columnPadding": 2.8, "legendX": -4.7, "legendY": 385}}
   }},
  {"mark": {"type": "line", "opacity": 0},
   "encoding": {
    "x": {"field": "day", "type": "ordinal", "scale": {"domain": ["D-0","D-1","D-2","D-3","D-4","D-5","D-6","D-7","D-8"]}, "axis": {"orient": "top", "labels": false, "grid": false, "title": "Viral load in oral, nasal, and rectal swabs (Group 4)", "titleX": 20.9, "titleY": -60.7, "titleAlign": "left", "titleBaseline": "middle", "titleFontSize": 37, "titleColor": "#1f1f1f"}},
    "detail": {"field": "series"}
   }}
 ],
 "resolve": {"axis": {"x": "independent"}}}
]
}
]
}
